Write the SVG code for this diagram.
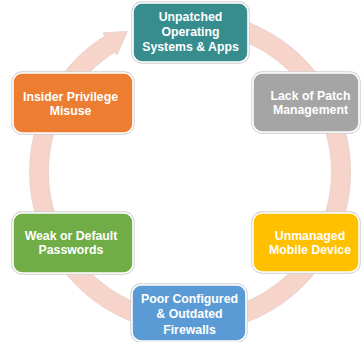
<svg xmlns="http://www.w3.org/2000/svg" width="361" height="342" viewBox="0 0 361 342">
<style>
.box{stroke:#ffffff;stroke-width:1.6}
.sh{fill:none;stroke:#cfcfcf;stroke-width:3.4}
.t{font-family:"Liberation Sans",Arial,sans-serif;font-weight:bold;font-size:12.3px;fill:#ffffff;text-anchor:middle}
</style>
<rect width="361" height="342" fill="#ffffff"/>
<g id="connectors">
<path d="M223.4,15 A160.5,160.5 0 1 1 105,35.9 L103.1,32.9 L127.4,31.3 L116.9,55 L115,52 A141.5,141.5 0 1 0 219.4,33.6 Z" fill="#F6D4C9" stroke="#E3CCC6" stroke-width="0.7"/>
</g>
<g id="n1">
<rect class="sh" x="133" y="3" width="115" height="59" rx="9"/>
<rect class="box" x="133" y="3" width="115" height="59" rx="9" fill="#378C8E"/>
<text class="t" x="190.5" y="21">Unpatched</text>
<text class="t" x="190.5" y="36">Operating</text>
<text class="t" x="190.5" y="51">Systems &amp; Apps</text>
</g>
<g id="n2">
<rect class="sh" x="253" y="73" width="106" height="59" rx="9"/>
<rect class="box" x="253" y="73" width="106" height="59" rx="9" fill="#A5A5A5"/>
<text class="t" x="310.5" y="100">Lack of Patch</text>
<text class="t" x="310.5" y="114">Management</text>
</g>
<g id="n3">
<rect class="sh" x="253" y="213" width="106" height="59" rx="9"/>
<rect class="box" x="253" y="213" width="106" height="59" rx="9" fill="#FFC000"/>
<text class="t" x="310" y="240">Unmanaged</text>
<text class="t" x="310" y="254">Mobile Device</text>
</g>
<g id="n4">
<rect class="sh" x="132" y="285" width="114" height="56" rx="9"/>
<rect class="box" x="132" y="285" width="114" height="56" rx="9" fill="#5B9BD5"/>
<text class="t" x="189.5" y="302.5">Poor Configured</text>
<text class="t" x="189.5" y="318">&amp; Outdated</text>
<text class="t" x="189.5" y="333.5">Firewalls</text>
</g>
<g id="n5">
<rect class="sh" x="13" y="213" width="120" height="60" rx="9"/>
<rect class="box" x="13" y="213" width="120" height="60" rx="9" fill="#70AD47"/>
<text class="t" x="71" y="240">Weak or Default</text>
<text class="t" x="71" y="254">Passwords</text>
</g>
<g id="n6">
<rect class="sh" x="13" y="73" width="120" height="60" rx="9"/>
<rect class="box" x="13" y="73" width="120" height="60" rx="9" fill="#ED7D31"/>
<text class="t" x="70.5" y="101">Insider Privilege</text>
<text class="t" x="70.5" y="115">Misuse</text>
</g>
</svg>
